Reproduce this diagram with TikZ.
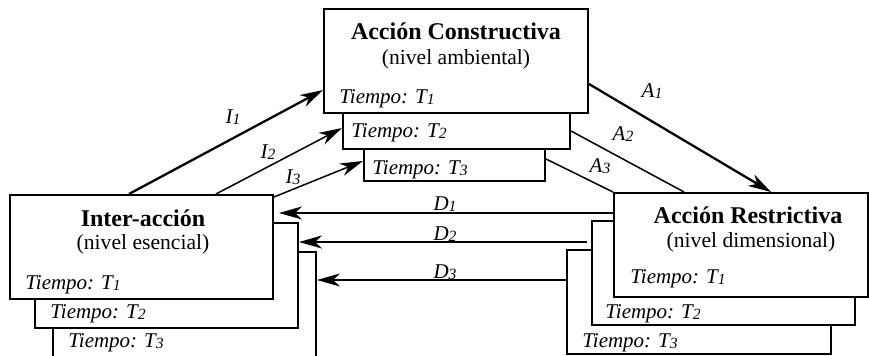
\documentclass[tikz,border=0pt]{standalone}
\usepackage{fontspec}
\setmainfont{Liberation Serif}
\usetikzlibrary{arrows.meta,fit,calc}

% small index digit set on the baseline, as in T1, I2, D3
\newcommand\tsub[1]{\raisebox{-0.4pt}{\fontsize{7.8}{8}\selectfont #1}}

\begin{document}
\begin{tikzpicture}[x=0.5pt,y=-0.5pt,
  stackbox/.style={draw, line width=1pt, fill=white, inner sep=0pt, rectangle},
  heading/.style={font=\fontsize{12}{14}\selectfont\bfseries, inner sep=0pt, anchor=base},
  level/.style={font=\fontsize{10.8}{12}\selectfont, inner sep=0pt, anchor=base},
  stamp/.style={font=\fontsize{10.5}{12}\selectfont\itshape, inner sep=0pt, anchor=base west},
  lbl/.style={font=\fontsize{10.5}{12}\selectfont\itshape, inner sep=0pt, anchor=base},
  arrowed/.style={-{Stealth[length=11.5pt,width=6.5pt,inset=3.5pt]}},
  heavy/.style={line width=1.15pt},
  medium/.style={line width=0.75pt},
  light/.style={line width=0.55pt},
]
\clip (0,0) rectangle (869,356);

% ---- Acción Constructiva, three time layers
\node[stackbox, fit={(364,149) (545,181)}] (ac3) {};
\node[stackbox, fit={(343,113) (570,149)}] (ac2) {};
\node[stackbox, fit={(324,9) (588,113)}] (ac1) {};
\node[heading] (acT) at (456,40) {Acción Constructiva};
\node[level] (acL) at (456,65) {(nivel ambiental)};
\node[stamp] (acS1) at (339,104) {Tiempo: T\tsub{1}};
\node[stamp] (acS2) at (351,138) {Tiempo: T\tsub{2}};
\node[stamp] (acS3) at (372,175) {Tiempo: T\tsub{3}};

% ---- Inter-acción, three time layers
\node[stackbox, fit={(53,252) (316,362)}] (ia3) {};
\node[stackbox, fit={(35,223) (298,328)}] (ia2) {};
\node[stackbox, fit={(10,195) (273,299)}] (ia1) {};
\node[heading] (iaT) at (143,227) {Inter-acción};
\node[level] (iaL) at (143,250) {(nivel esencial)};
\node[stamp] (iaS1) at (25,290) {Tiempo: T\tsub{1}};
\node[stamp] (iaS2) at (50,319) {Tiempo: T\tsub{2}};
\node[stamp] (iaS3) at (68,348) {Tiempo: T\tsub{3}};

% ---- Acción Restrictiva, three time layers
\node[stackbox, fit={(567,250) (831,354)}] (ar3) {};
\node[stackbox, fit={(592,221) (855,325)}] (ar2) {};
\node[stackbox, fit={(614,193) (868,297)}] (ar1) {};
\node[heading] (arT) at (748,224) {Acción Restrictiva};
\node[level] (arL) at (751,248) {(nivel dimensional)};
\node[stamp] (arS1) at (630,284) {Tiempo: T\tsub{1}};
\node[stamp] (arS2) at (605,319) {Tiempo: T\tsub{2}};
\node[stamp] (arS3) at (582,348) {Tiempo: T\tsub{3}};

% ---- I: Inter-acción -> Acción Constructiva
\draw[heavy, arrowed] ([xshift=60pt]ia1.north west) -- ([yshift=12pt]ac1.south west);
\draw[medium, arrowed] ([xshift=103.5pt]ia1.north west) -- ([yshift=11pt]ac2.south west);
\draw[medium, arrowed] ([yshift=-1.5pt]ia1.north east) -- ([yshift=10.5pt]ac3.south west);
\node[lbl] (i1) at (233,124) {I\tsub{1}};
\node[lbl] (i2) at (268,159) {I\tsub{2}};
\node[lbl] (i3) at (293,184) {I\tsub{3}};

% ---- A: Acción Constructiva -> Acción Restrictiva
\draw[heavy, arrowed] ([yshift=15pt]ac1.south east) -- ([xshift=79pt]ar1.north west);
\draw[medium] ([yshift=9.5pt]ac2.south east) -- ([xshift=35.5pt]ar1.north west);
\draw[medium] ([yshift=11.5pt]ac3.south east) -- (ar1.north west);
\node[lbl] (a1) at (652,98) {A\tsub{1}};
\node[lbl] (a2) at (623,141) {A\tsub{2}};
\node[lbl] (a3) at (600,173) {A\tsub{3}};

% ---- D: Acción Restrictiva -> Inter-acción
\coordinate (d1) at ([yshift=-10.5pt]ar1.north west);
\coordinate (d2) at ([xshift=-2pt,yshift=-11pt]ar2.north west);
\coordinate (d3) at ([yshift=-15.5pt]ar3.north west);
\draw[light, arrowed, shorten >=2.5pt] (d1) -- (d1 -| ia1.east);
\draw[medium, arrowed] (d2) -- (d2 -| ia2.east);
\draw[light, arrowed] (d3) -- (d3 -| ia3.east);
\node[lbl] (dl1) at (445,211) {D\tsub{1}};
\node[lbl] (dl2) at (445,241) {D\tsub{2}};
\node[lbl] (dl3) at (445,279) {D\tsub{3}};
\end{tikzpicture}
\end{document}
